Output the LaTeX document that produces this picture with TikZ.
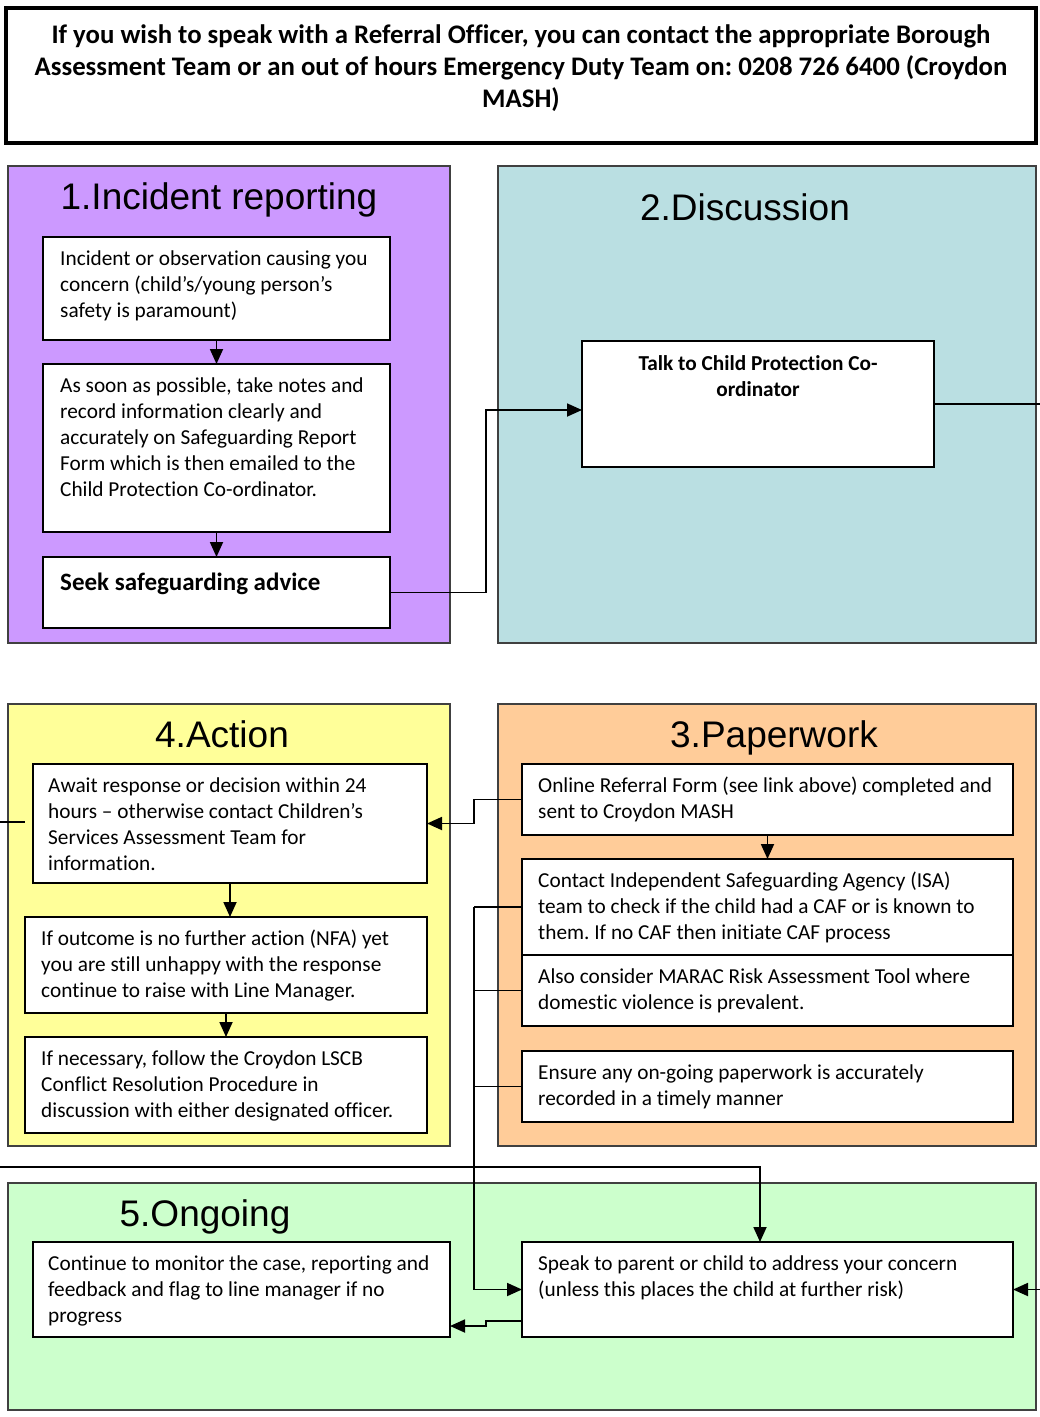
\documentclass[tikz,border=0pt]{standalone}
\usepackage{fontspec}
\setmainfont{Carlito}[Ligatures=NoCommon]
\newfontfamily\hdrfont{Liberation Sans}
\usetikzlibrary{arrows.meta}
\frenchspacing
\definecolor{purp}{HTML}{CC99FF}
\definecolor{teal2}{HTML}{BADFE2}
\definecolor{yel}{HTML}{FFFF99}
\definecolor{ora}{HTML}{FFCC99}
\definecolor{grn}{HTML}{CCFFCC}
\tikzset{
  sec/.style={draw=black!75, line width=1.6pt, inner sep=0, outer sep=0, anchor=north west},
  box/.style={draw=black, fill=white, line width=2.4pt, inner sep=0, outer sep=0, anchor=north west},
  txt/.style={inner sep=0, anchor=north west, align=left, font=\fontsize{21.3}{26}\selectfont},
  hd/.style={inner sep=0, anchor=base, font=\hdrfont\fontsize{37}{42}\selectfont},
  conn/.style={line width=1.8pt},
  arr/.style={conn, -{Triangle[length=15pt,width=13pt]}}
}
\begin{document}
\frenchspacing
\begin{tikzpicture}[x=1pt,y=-1pt]
\useasboundingbox (0,0) rectangle (1040,1417);
% title
\node[draw=black, line width=3.5pt, inner sep=0, outer sep=0, anchor=north west, minimum width=1030pt, minimum height=135pt] (title) at (6,8) {};
\node[inner sep=0, anchor=north, align=center, font=\fontsize{26.8}{32}\selectfont\bfseries] (titlet) at (521,20.5)
 {\strut If you wish to speak with a Referral Officer, you can contact the appropriate Borough\\
  Assessment Team or an out of hours Emergency Duty Team on: 0208 726 6400 (Croydon\\
  MASH)};
% sections
\node[sec, fill=purp, minimum width=442pt, minimum height=477pt] (s1) at (8,166) {};
\node[sec, fill=teal2, minimum width=538pt, minimum height=477pt] (s2) at (498,166) {};
\node[sec, fill=yel, minimum width=442pt, minimum height=442pt] (s4) at (8,704) {};
\node[sec, fill=ora, minimum width=538pt, minimum height=442pt] (s3) at (498,704) {};
\node[sec, fill=grn, minimum width=1028pt, minimum height=227pt] (s5) at (8,1183) {};
% headers
\node[hd] (h1) at (219,209) {1.Incident reporting};
\node[hd] (h2) at (745,220) {2.Discussion};
\node[hd] (h4) at (222,747) {4.Action};
\node[hd] (h3) at (774,747) {3.Paperwork};
\node[hd] (h5) at (205,1226) {5.Ongoing};
% boxes
\node[box, minimum width=347pt, minimum height=103pt] (b1a) at (43,237) {};
\node[box, minimum width=347pt, minimum height=168pt] (b1b) at (43,364) {};
\node[box, minimum width=347pt, minimum height=71pt] (b1c) at (43,557) {};
\node[box, minimum width=352pt, minimum height=126pt] (talk) at (582,341) {};
\node[box, minimum width=394pt, minimum height=119pt] (b4a) at (33,764) {};
\node[box, minimum width=402pt, minimum height=96pt] (b4b) at (25,917) {};
\node[box, minimum width=402pt, minimum height=96pt] (b4c) at (25,1037) {};
\node[box, minimum width=491pt, minimum height=71pt] (b3a) at (522,764) {};
\node[box, minimum width=491pt, minimum height=96pt] (b3b) at (522,859) {};
\node[box, minimum width=491pt, minimum height=71pt] (b3c) at (522,955) {};
\node[box, minimum width=491pt, minimum height=71pt] (b3d) at (522,1051) {};
\node[box, minimum width=417pt, minimum height=95pt] (b5a) at (33,1242) {};
\node[box, minimum width=491pt, minimum height=95pt] (speak) at (522,1242) {};
% texts
\node[txt] (t1a) at ([xshift=17pt,yshift=-10pt]b1a.north west)
 {\strut Incident or observation causing you\\concern (child’s/young person’s\\safety is paramount)};
\node[txt] (t1b) at ([xshift=17pt,yshift=-10pt]b1b.north west)
 {\strut As soon as possible, take notes and\\record information clearly and\\accurately on Safeguarding Report\\Form which is then emailed to the\\Child Protection Co-ordinator.};
\node[inner sep=0, anchor=base west, font=\fontsize{25}{30}\selectfont\bfseries] (t1c) at (60,590) {Seek safeguarding advice};
\node[inner sep=0, anchor=north, align=center, font=\fontsize{21.3}{26}\selectfont\bfseries] (ttalk) at (758,351.8)
 {\strut Talk to Child Protection Co-\\ordinator};
\node[txt] (t4a) at ([xshift=15pt,yshift=-10pt]b4a.north west)
 {\strut Await response or decision within 24\\hours – otherwise contact Children’s\\Services Assessment Team for\\information.};
\node[txt] (t4b) at ([xshift=16pt,yshift=-10pt]b4b.north west)
 {\strut If outcome is no further action (NFA) yet\\you are still unhappy with the response\\continue to raise with Line Manager.};
\node[txt] (t4c) at ([xshift=16pt,yshift=-10pt]b4c.north west)
 {\strut If necessary, follow the Croydon LSCB\\Conflict Resolution Procedure in\\discussion with either designated officer.};
\node[txt] (t3a) at ([xshift=16pt,yshift=-10pt]b3a.north west)
 {\strut Online Referral Form (see link above) completed and\\sent to Croydon MASH};
\node[txt] (t3b) at ([xshift=16pt,yshift=-10pt]b3b.north west)
 {\strut Contact Independent Safeguarding Agency (ISA)\\team to check if the child had a CAF or is known to\\them. If no CAF then initiate CAF process};
\node[txt] (t3c) at ([xshift=16pt,yshift=-10pt]b3c.north west)
 {\strut Also consider MARAC Risk Assessment Tool where\\domestic violence is prevalent.};
\node[txt] (t3d) at ([xshift=16pt,yshift=-10pt]b3d.north west)
 {\strut Ensure any on-going paperwork is accurately\\recorded in a timely manner};
\node[txt] (t5a) at ([xshift=15pt,yshift=-10pt]b5a.north west)
 {\strut Continue to monitor the case, reporting and\\feedback and flag to line manager if no\\progress};
\node[txt] (tspeak) at ([xshift=16pt,yshift=-10pt]speak.north west)
 {\strut Speak to parent or child to address your concern\\(unless this places the child at further risk)};
% free ends
\coordinate (rE1) at (1040,404);
\coordinate (lE1) at (0,822);
\coordinate (lE1b) at (25,822);
\coordinate (lE2) at (0,1167);
\coordinate (rE2) at (1040,1289.5);
% connectors
\draw[arr] (b1a.south) -- (b1b.north);
\draw[arr] (b1b.south) -- (b1c.north);
\draw[arr] (b1c.east) -- (486,592.5) -- (486,410) -- (talk.west |- 0,410);
\draw[conn] (talk.east) -- (rE1);
\draw[arr] (b3a.south) -- (b3b.north);
\draw[arr] (b3a.west) -- (474,799.5) -- (474,823.5) -- (b4a.east);
\draw[arr] (b4a.south) -- (b4a.south |- b4b.north);
\draw[arr] (b4b.south) -- (b4c.north);
\draw[conn] (lE1) -- (lE1b);
\draw[conn] (b3b.west) -- (474,907);
\draw[conn] (b3c.west) -- (474,990.5);
\draw[conn] (b3d.west) -- (474,1086.5);
\draw[arr] (474,907) -- (474,1289.5) -- (speak.west);
\draw[arr] (lE2) -- (760,1167) -- (speak.north -| 760,0);
\draw[arr] (rE2) -- (speak.east);
\draw[arr] (522,1321) -- (486,1321) -- (486,1326) -- (b5a.east |- 0,1326);
\end{tikzpicture}
\end{document}
